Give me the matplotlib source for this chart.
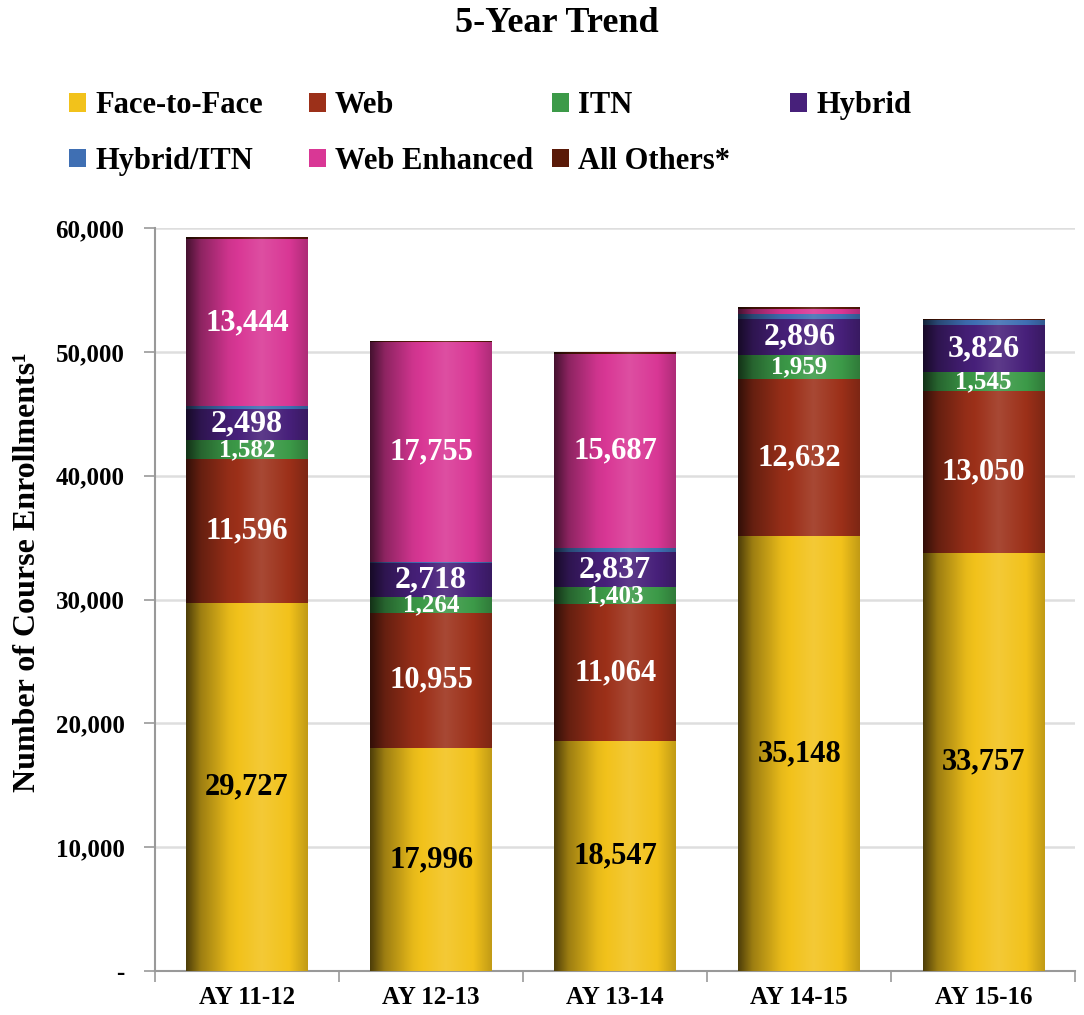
import numpy as np
import matplotlib
matplotlib.use("Agg")
import matplotlib.pyplot as plt
from matplotlib.patches import Patch
from matplotlib.ticker import FuncFormatter, FixedLocator
from matplotlib.colors import to_rgb

plt.rcParams['font.family'] = ['Liberation Serif', 'DejaVu Serif']

# ---- data ----
years = ["AY 11-12", "AY 12-13", "AY 13-14", "AY 14-15", "AY 15-16"]
face_to_face = [29727, 17996, 18547, 35148, 33757]
web = [11596, 10955, 11064, 12632, 13050]
itn = [1582, 1264, 1403, 1959, 1545]
hybrid = [2498, 2718, 2837, 2896, 3826]
hybrid_itn = [250, 120, 300, 400, 420]
web_enhanced = [13444, 17755, 15687, 400, 0]
all_others = [100, 60, 150, 100, 70]

# name, values, colour, label colour, label size, labelled
series = [
    ("Face-to-Face", face_to_face, "#F2C21B", "black", 22, True),
    ("Web", web, "#9C3019", "white", 22, True),
    ("ITN", itn, "#3C9A48", "white", 18, True),
    ("Hybrid", hybrid, "#47207A", "white", 23, True),
    ("Hybrid/ITN", hybrid_itn, "#3F6FB3", "white", 12, False),
    ("Web Enhanced", web_enhanced, "#D93795", "white", 22, True),
    ("All Others*", all_others, "#5A1A08", "white", 12, False),
]

fig = plt.figure(figsize=(10.84, 10.15), dpi=100)
ax = fig.add_axes([0.143, 0.0433, 0.849, 0.732])

x = np.arange(len(years))
width = 0.66
bottom = np.zeros(len(years))

# horizontal shading profile that gives the bars a rounded, cylinder look
prof_x = np.linspace(0, 1, 200)
shade = np.interp(prof_x, [0, 0.12, 0.35, 0.62, 0.85, 1.0],
                  [0.32, 0.65, 0.95, 1.12, 1.0, 0.80])


def shaded(color):
    c = np.array(to_rgb(color))
    rows = []
    for s in shade:
        if s <= 1:
            rows.append(c * s)
        else:
            rows.append(c + (1 - c) * (s - 1))
    return np.clip(np.array(rows), 0, 1)[None, :, :]


for name, vals, col, tcol, fs, show in series:
    vals = np.array(vals, dtype=float)
    bars = ax.bar(x, vals, width, bottom=bottom, color=col, linewidth=0, zorder=2)
    img = shaded(col)
    for b in bars:
        h = b.get_height()
        if h <= 0:
            continue
        x0, y0, w = b.get_x(), b.get_y(), b.get_width()
        ax.imshow(img, extent=[x0, x0 + w, y0, y0 + h], aspect='auto',
                  interpolation='bilinear', zorder=3)
    if show:
        for xi, v, btm in zip(x, vals, bottom):
            if v >= 1000:
                ax.text(xi, btm + v / 2, f"{int(v):,}", ha='center', va='center',
                        color=tcol, fontsize=fs, fontweight='bold', zorder=5)
    bottom += vals

ax.set_xlim(-0.5, len(years) - 0.5)
ax.set_ylim(0, 60000)

ax.yaxis.set_major_locator(FixedLocator(np.arange(0, 60001, 10000)))
ax.yaxis.set_major_formatter(FuncFormatter(lambda v, p: "-" if v == 0 else f"{int(v):,}"))
ax.set_xticks(x)
ax.set_xticklabels(years)
ax.set_xticks(np.arange(-0.5, len(years)), minor=True)
ax.tick_params(axis='x', which='major', length=0, pad=11, labelsize=18)
ax.tick_params(axis='x', which='minor', length=8, width=1.2, color='#999999', direction='out')
ax.tick_params(axis='y', length=8, width=1.2, color='#999999', labelsize=18, pad=14)
for lbl in ax.get_xticklabels() + ax.get_yticklabels():
    lbl.set_fontweight('bold')

ax.grid(axis='y', color='#dedede', linewidth=1.8, zorder=0)
ax.set_axisbelow(True)
for s in ['top', 'right']:
    ax.spines[s].set_visible(False)
for s in ['left', 'bottom']:
    ax.spines[s].set_color('#999999')
    ax.spines[s].set_linewidth(1.5)

fig.text(0.025, 0.436, "Number of Course Enrollments¹", rotation=90, ha='center', va='center',
         fontsize=23, fontweight='bold')

fig.text(0.514, 0.977, "5-Year Trend", ha='center', va='center', fontsize=26, fontweight='bold')

# legend laid out as a fixed grid: four columns, filled row by row
col_x = [0.064, 0.285, 0.509, 0.729]
by_col = [[0, 4], [1, 5], [2, 6], [3]]
for cx, idxs in zip(col_x, by_col):
    hs = [Patch(facecolor=series[i][2], edgecolor='none') for i in idxs]
    ls = [series[i][0] for i in idxs]
    leg = fig.legend(hs, ls, loc='upper left', bbox_to_anchor=(cx, 0.910),
                     frameon=False, prop={'size': 22, 'weight': 'bold'},
                     handlelength=0.55, handleheight=0.55, handletextpad=0.3,
                     borderpad=0, borderaxespad=0, labelspacing=0.86)

fig.savefig("out.png", dpi=100)
